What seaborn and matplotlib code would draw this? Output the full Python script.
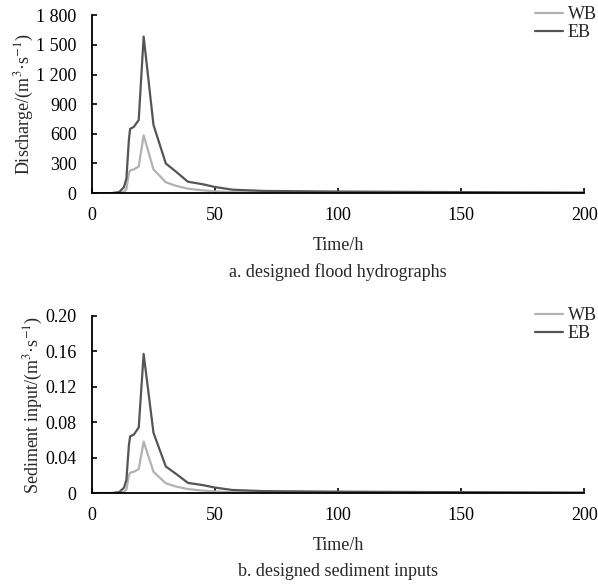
import numpy as np
import pandas as pd
import matplotlib
matplotlib.use("Agg")
import matplotlib.pyplot as plt
import seaborn as sns
from matplotlib.ticker import FuncFormatter, FixedLocator

# ---- data ----
time_h = [0, 8, 11, 13, 14, 15, 15.5, 17, 19, 21, 25, 30, 34, 39, 45, 50, 57, 70, 100, 150, 200]
discharge_wb = [0, 0, 3, 15, 40, 200, 230, 240, 270, 585, 240, 110, 75, 45, 28, 18, 10, 7, 5, 3, 2]
discharge_eb = [0, 0, 10, 60, 150, 540, 650, 670, 740, 1585, 690, 300, 220, 115, 90, 62, 35, 22, 16, 10, 5]
sediment_wb = [0, 0, 0.0003, 0.0015, 0.004, 0.020, 0.023, 0.024, 0.027, 0.058, 0.024, 0.011, 0.0075, 0.0045, 0.0028, 0.0018, 0.001, 0.0007, 0.0005, 0.0003, 0.0002]
sediment_eb = [0, 0, 0.001, 0.006, 0.015, 0.054, 0.064, 0.066, 0.074, 0.157, 0.068, 0.030, 0.022, 0.0115, 0.009, 0.0062, 0.0035, 0.0022, 0.0016, 0.001, 0.0005]
series_names = ["WB", "EB"]
q_ticks = [0, 300, 600, 900, 1200, 1500, 1800]
s_ticks = [0, 0.04, 0.08, 0.12, 0.16, 0.20]
x_ticks = [0, 50, 100, 150, 200]

df_q = pd.DataFrame({
    "Time": time_h * 2,
    "value": discharge_wb + discharge_eb,
    "series": [series_names[0]] * len(time_h) + [series_names[1]] * len(time_h),
})
df_s = pd.DataFrame({
    "Time": time_h * 2,
    "value": sediment_wb + sediment_eb,
    "series": [series_names[0]] * len(time_h) + [series_names[1]] * len(time_h),
})

sns.set_style("ticks")
plt.rcParams["font.family"] = ["Liberation Serif", "DejaVu Serif"]
plt.rcParams["mathtext.fontset"] = "stix"
FS = 13
plt.rcParams["font.size"] = FS

palette = {"WB": "#b2b2b2", "EB": "#555555"}

fig = plt.figure(figsize=(5.98, 5.87), dpi=100)
ax1 = fig.add_axes([0.1538, 0.671, 0.823, 0.303])
ax2 = fig.add_axes([0.1538, 0.160, 0.823, 0.302])

def style(ax, yticks, ylim, fmt, ylabel, caption):
    ax.set_xlim(0, 200)
    ax.set_ylim(*ylim)
    ax.xaxis.set_major_locator(FixedLocator(x_ticks))
    ax.yaxis.set_major_locator(FixedLocator(yticks))
    ax.yaxis.set_major_formatter(FuncFormatter(fmt))
    for s in ["top", "right"]:
        ax.spines[s].set_visible(False)
    for s in ["left", "bottom"]:
        ax.spines[s].set_linewidth(1.3)
        ax.spines[s].set_color("black")
    ax.tick_params(direction="in", length=3.5, width=1.2, labelsize=FS, colors="black")
    ax.tick_params(axis="y", pad=11)
    ax.tick_params(axis="x", pad=10)
    ax.set_xlabel("Time/h", fontsize=FS, labelpad=9.5)
    ax.set_ylabel(ylabel, fontsize=FS, labelpad=0)
    ax.text(0.5, -0.445, caption, transform=ax.transAxes, ha="center", va="center", fontsize=FS)
    ax.legend(loc="upper right", bbox_to_anchor=(1.04, 1.09), frameon=False,
              handlelength=1.55, handletextpad=0.28, labelspacing=0.05, fontsize=FS,
              borderaxespad=0)

sns.lineplot(data=df_q, x="Time", y="value", hue="series", palette=palette,
             hue_order=series_names, linewidth=1.6, ax=ax1)
sns.lineplot(data=df_s, x="Time", y="value", hue="series", palette=palette,
             hue_order=series_names, linewidth=1.6, ax=ax2)

style(ax1, q_ticks, (0, 1800),
      lambda v, p: f"{int(round(v)):,}".replace(",", " "),
      r"Discharge/(m$^{3}$·s$^{-1}$)", "a. designed flood hydrographs")
style(ax2, s_ticks, (0, 0.20),
      lambda v, p: "0" if v == 0 else f"{v:.2f}",
      r"Sediment input/(m$^{3}$·s$^{-1}$)", "b. designed sediment inputs")

fig.savefig("out.png", dpi=100)
